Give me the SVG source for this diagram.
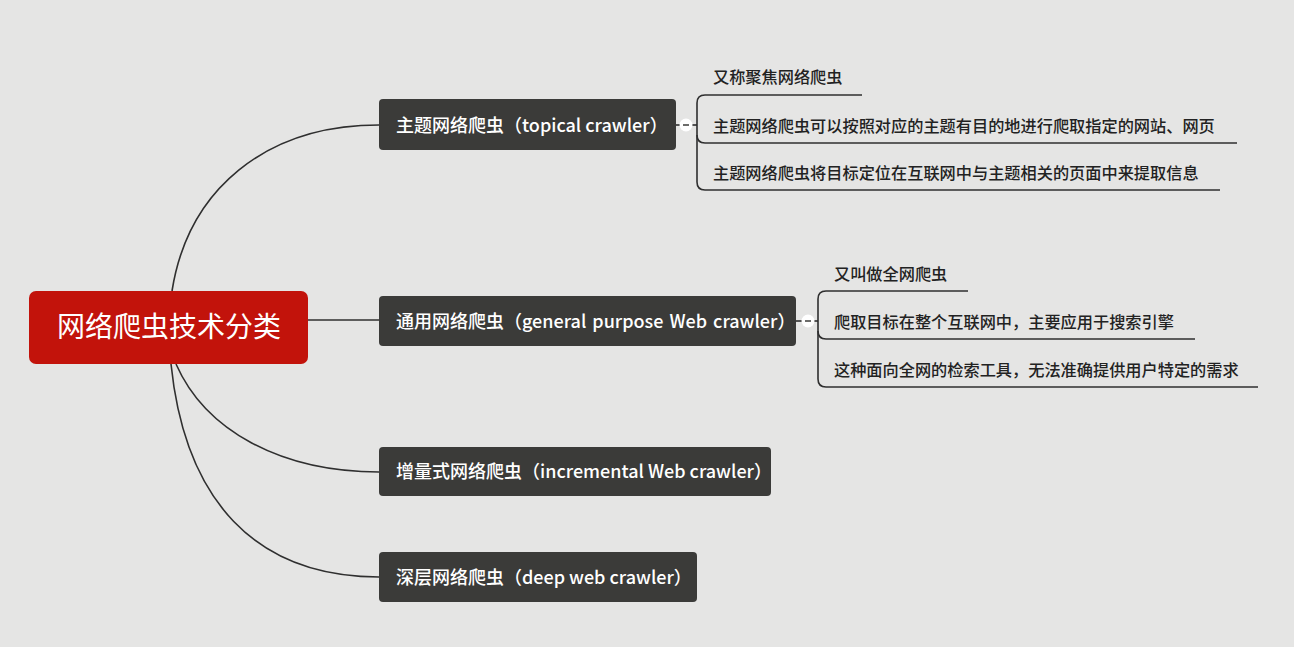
<svg xmlns="http://www.w3.org/2000/svg" width="1294" height="647" viewBox="0 0 1294 647">
<style>
.bg{fill:#e5e5e4}
.node{fill:#3b3b39}
.root{fill:#c2130b}
.nt{font-family:"Noto Sans CJK SC","Noto Sans",sans-serif;font-size:18px;font-weight:500;fill:#ffffff}
.rt{font-family:"Noto Sans CJK SC","Noto Sans",sans-serif;font-size:28px;fill:#ffffff}
.lt{font-family:"Noto Sans CJK SC","Noto Sans",sans-serif;font-size:16.2px;font-weight:500;fill:#222222}
.con{fill:none;stroke:#2f2f2f;stroke-width:1.6}
.col{fill:#ffffff;stroke:none}
.dash{stroke:#3b3b39;stroke-width:1.5}
</style>
<rect class="bg" x="0" y="0" width="1294" height="647"/>
<g id="connectors">
  <path class="con" d="M172,291 C188,190 265,125 379,125"/>
  <path class="con" d="M308,320 L379,320"/>
  <path class="con" d="M176,364 C205,430 280,472 379,472"/>
  <path class="con" d="M171,364 C185,500 255,577 379,577"/>
  <path class="con" d="M676,125 L697,125"/>
  <path class="con" d="M862,95 L705,95 Q697,95 697,103 L697,182 Q697,190 705,190 L1220,190"/>
  <path class="con" d="M697,135 Q697,143 705,143 L1237,143"/>
  <path class="con" d="M796,321 L818,321"/>
  <path class="con" d="M968,291 L826,291 Q818,291 818,299 L818,379 Q818,387 826,387 L1258,387"/>
  <path class="con" d="M818,331 Q818,339 826,339 L1195,339"/>
</g>
<g id="root">
  <rect class="root" x="29" y="291" width="279" height="73" rx="7"/>
  <text class="rt" x="169" y="337" text-anchor="middle">网络爬虫技术分类</text>
</g>
<g id="n1">
  <rect class="node" x="379" y="99" width="297" height="51" rx="4"/>
  <text class="nt" x="396" y="132">主题网络爬虫（topical crawler）</text>
  <circle class="col" cx="686" cy="125" r="6.5"/>
  <line class="dash" x1="683" y1="125" x2="689" y2="125"/>
</g>
<g id="n2">
  <rect class="node" x="379" y="296" width="417" height="50" rx="4"/>
  <text class="nt" x="396" y="328" word-spacing="2">通用网络爬虫（general purpose Web crawler）</text>
  <circle class="col" cx="808" cy="321" r="6.5"/>
  <line class="dash" x1="805" y1="321" x2="811" y2="321"/>
</g>
<g id="n3">
  <rect class="node" x="379" y="447" width="392" height="49" rx="4"/>
  <text class="nt" x="396" y="478">增量式网络爬虫（incremental Web crawler）</text>
</g>
<g id="n4">
  <rect class="node" x="379" y="552" width="318" height="50" rx="4"/>
  <text class="nt" x="396" y="584">深层网络爬虫（deep web crawler）</text>
</g>
<g id="l1a"><text class="lt" x="713" y="83">又称聚焦网络爬虫</text></g>
<g id="l1b"><text class="lt" x="713" y="132">主题网络爬虫可以按照对应的主题有目的地进行爬取指定的网站、网页</text></g>
<g id="l1c"><text class="lt" x="713" y="179">主题网络爬虫将目标定位在互联网中与主题相关的页面中来提取信息</text></g>
<g id="l2a"><text class="lt" x="834" y="280">又叫做全网爬虫</text></g>
<g id="l2b"><text class="lt" x="834" y="328">爬取目标在整个互联网中，主要应用于搜索引擎</text></g>
<g id="l2c"><text class="lt" x="834" y="376">这种面向全网的检索工具，无法准确提供用户特定的需求</text></g>
</svg>
